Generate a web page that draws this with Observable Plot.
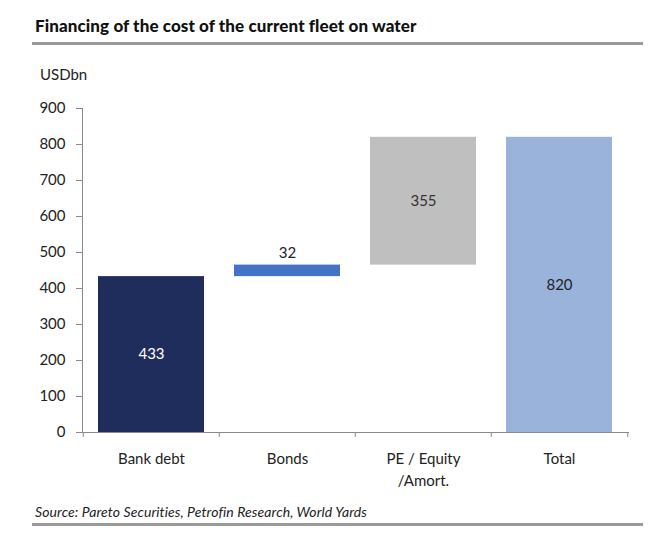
<!DOCTYPE html>
<html>
<head>
<meta charset="utf-8">
<script src="https://cdn.jsdelivr.net/npm/d3@7"></script>
<script src="https://cdn.jsdelivr.net/npm/@observablehq/plot@0.6"></script>
<style>
  html, body { margin: 0; padding: 0; background: #fff; }
  #wrap { position: relative; width: 669px; height: 559px; font-family: Lato, "Open Sans", sans-serif; }
  #head { position: relative; width: 669px; height: 90px; }
  #title { position: absolute; left: 35px; top: 15px; font-size: 17px; font-weight: 900; color: #111; letter-spacing: 0.1px; }
  .rule { position: absolute; left: 32px; width: 611px; height: 3px; background: #9a9a9a; }
  #unit { position: absolute; left: 40px; top: 65px; font-size: 15px; color: #222; }
  #chart svg { display: block; }
  #foot { position: relative; width: 669px; height: 59px; }
  #source { position: absolute; left: 35px; top: 3px; font-size: 14px; font-style: italic; color: #222; letter-spacing: 0.1px; }
</style>
</head>
<body>
<div id="wrap">
  <div id="head">
    <div id="title">Financing of the cost of the current fleet on water</div>
    <div class="rule" style="top:42px"></div>
    <div id="unit">USDbn</div>
  </div>
  <div id="chart"></div>
  <div id="foot">
    <div id="source">Source: Pareto Securities, Petrofin Research, World Yards</div>
    <div class="rule" style="top:23px"></div>
  </div>
</div>
<script>
const categories = ["Bank debt", "Bonds", "PE / Equity\n/Amort.", "Total"];
const values = [433, 32, 355, 820];
const colors = ["#1e2d5b", "#4472c4", "#bfbfbf", "#9ab3db"];
const labelColors = ["#ffffff", "#222222", "#333333", "#222222"];
const yTicks = [0, 100, 200, 300, 400, 500, 600, 700, 800, 900];

// waterfall: first three stack cumulatively, last one is the total from zero
let acc = 0;
const rows = categories.map((cat, i) => {
  const isTotal = i === categories.length - 1;
  const y1 = isTotal ? 0 : acc;
  const y2 = isTotal ? values[i] : acc + values[i];
  if (!isTotal) acc += values[i];
  return {cat, value: values[i], y1, y2, color: colors[i], labelColor: labelColors[i], above: i === 1};
});

const chart = Plot.plot({
  width: 669,
  height: 410,
  marginLeft: 82,
  marginRight: 41,
  marginTop: 18,
  marginBottom: 68,
  style: {fontFamily: "Lato, 'Open Sans', sans-serif", fontSize: "14px", color: "#222"},
  x: {domain: categories, paddingInner: 0.22, paddingOuter: 0.11, label: null},
  y: {domain: [0, 900], label: null},
  color: {type: "identity"},
  marks: [
    Plot.barY(rows, {x: "cat", y1: "y1", y2: "y2", fill: "color"}),
    Plot.frame({anchor: "left", stroke: "#8a8a8a"}),
    Plot.frame({anchor: "bottom", stroke: "#8a8a8a"}),
    Plot.axisY({ticks: yTicks, tickSize: 6, tickPadding: 11, stroke: "#8a8a8a", fill: "#222", fontSize: 15, label: null}),
    Plot.axisX({tickSize: 5, text: null, stroke: "#8a8a8a", dx: -68.25, label: null}),
    Plot.axisX({ticks: [categories[categories.length - 1]], tickSize: 5, text: null, stroke: "#8a8a8a", dx: 68.25, label: null}),
    Plot.axisX({tickSize: 0, tickPadding: 16, fill: "#222", fontSize: 15, lineHeight: 1.45, label: null}),
    Plot.text(rows.filter(d => !d.above), {x: "cat", y: d => (d.y1 + d.y2) / 2, text: d => String(d.value), fill: "labelColor", fontSize: 15}),
    Plot.text(rows.filter(d => d.above), {x: "cat", y: "y2", text: d => String(d.value), fill: "labelColor", fontSize: 15, dy: -12})
  ]
});
document.getElementById("chart").appendChild(chart);
</script>
</body>
</html>
